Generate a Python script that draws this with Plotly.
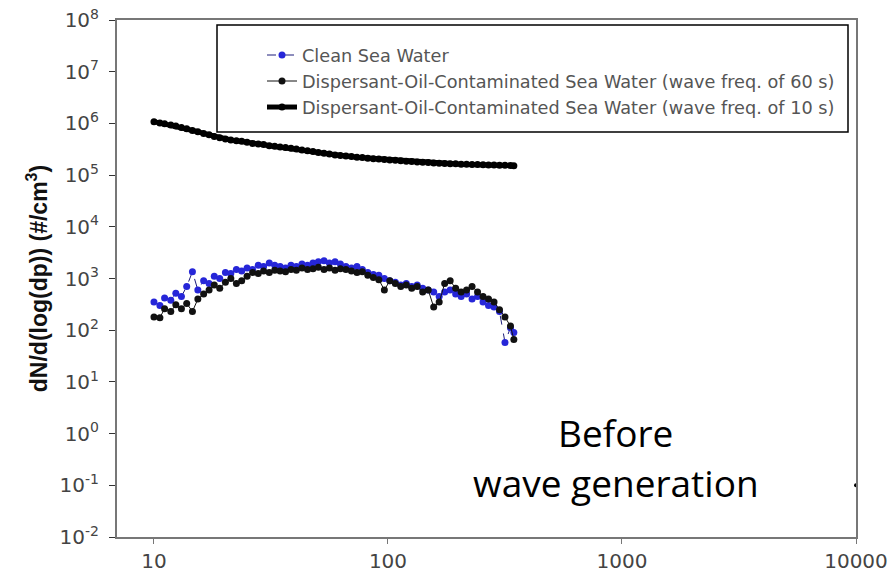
import plotly.graph_objects as go

# particle diameter bins (nm)
dp = [10.0, 10.6, 11.1, 11.8, 12.4, 13.1, 13.8, 14.6, 15.4, 16.3, 17.2, 18.1, 19.1, 20.2,
      21.3, 22.5, 23.7, 25.0, 26.4, 27.9, 29.4, 31.1, 32.8, 34.6, 36.5, 38.5, 40.6, 42.9,
      45.3, 47.8, 50.4, 53.3, 56.2, 59.4, 62.6, 66.1, 69.8, 73.7, 77.7, 82.0, 86.6, 91.4,
      96.5, 101.8, 107.5, 113.4, 119.7, 126.3, 133.3, 140.7, 148.6, 156.8, 165.5, 174.7,
      184.4, 194.6, 205.4, 216.7, 228.7, 241.4, 254.8, 268.9, 283.9, 299.6, 316.2, 333.8, 345.0]

clean = [350, 300, 420, 380, 520, 450, 700, 1350, 600, 900, 800, 1100, 1000, 1300,
         1250, 1500, 1400, 1600, 1500, 1800, 1700, 2000, 1800, 1700, 1600, 1800, 1700, 1900,
         1800, 2000, 2100, 2200, 2000, 2100, 1900, 1700, 1600, 1700, 1500, 1300, 1200, 1150,
         1000, 900, 850, 750, 800, 700, 750, 650, 600, 550, 450, 550,
         600, 500, 450, 500, 400, 450, 350, 300, 280, 230, 58, 112, 90]

oil60 = [180, 175, 260, 230, 310, 260, 330, 230, 400, 500, 600, 750, 650, 850,
         1000, 800, 900, 1100, 1300, 1250, 1400, 1300, 1450, 1400, 1350, 1500, 1450, 1600,
         1500, 1550, 1650, 1500, 1600, 1450, 1550, 1500, 1400, 1300, 1350, 1150, 1050, 950,
         600, 900, 800, 700, 750, 650, 700, 550, 600, 280, 350, 800,
         900, 650, 550, 600, 700, 550, 450, 400, 350, 250, 180, 120, 66]

oil10 = [1.08e6, 1.02e6, 9.8e5, 9.3e5, 8.9e5, 8.3e5, 7.9e5, 7.3e5, 6.9e5, 6.4e5, 6.0e5, 5.6e5, 5.3e5, 5.0e5,
         4.8e5, 4.6e5, 4.5e5, 4.3e5, 4.1e5, 4.0e5, 3.9e5, 3.7e5, 3.6e5, 3.5e5, 3.4e5, 3.3e5, 3.2e5, 3.05e5,
         2.95e5, 2.85e5, 2.75e5, 2.65e5, 2.55e5, 2.45e5, 2.4e5, 2.35e5, 2.28e5, 2.22e5, 2.18e5, 2.12e5, 2.08e5, 2.05e5,
         2.0e5, 1.97e5, 1.93e5, 1.9e5, 1.86e5, 1.83e5, 1.8e5, 1.78e5, 1.75e5, 1.72e5, 1.7e5, 1.68e5,
         1.66e5, 1.65e5, 1.63e5, 1.62e5, 1.6e5, 1.6e5, 1.58e5, 1.57e5, 1.56e5, 1.55e5, 1.55e5, 1.54e5, 1.52e5]

stray_x = [10000]
stray_y = [0.1]

names = ["Clean Sea Water",
         "Dispersant-Oil-Contaminated Sea Water (wave freq. of 60 s)",
         "Dispersant-Oil-Contaminated Sea Water (wave freq. of 10 s)"]

xticks = [10, 100, 1000, 10000]
xticktext = ["10", "100", "1000", "10000"]
yexp = list(range(-2, 9))
yticks = [10.0 ** e for e in yexp]
yticktext = ["10<sup>%d</sup>" % e for e in yexp]

FONT = "DejaVu Sans, Liberation Sans, sans-serif"
BFONT = "Liberation Sans, Arial, sans-serif"

fig = go.Figure()
fig.add_trace(go.Scatter(x=dp, y=clean, name=names[0], mode="lines+markers",
                         line=dict(color="#1c1c7a", width=1, dash="dash"),
                         marker=dict(color="#2626d8", size=7)))
fig.add_trace(go.Scatter(x=dp, y=oil60, name=names[1], mode="lines+markers",
                         line=dict(color="#111111", width=1),
                         marker=dict(color="#111111", size=7)))
fig.add_trace(go.Scatter(x=dp, y=oil10, name=names[2], mode="lines+markers",
                         line=dict(color="#000000", width=5),
                         marker=dict(color="#000000", size=7, symbol="circle")))
fig.add_trace(go.Scatter(x=stray_x, y=stray_y, mode="markers", showlegend=False,
                         marker=dict(color="#000000", size=4), cliponaxis=False))

W, H = 888, 584
L, R, T, B = 117, 32, 20, 47
pw, ph = W - L - R, H - T - B


def px(xp):
    return (xp - L) / pw


def py(yp):
    return (H - B - yp) / ph


fig.add_shape(type="rect", xref="paper", yref="paper",
              x0=px(217), x1=px(848), y0=py(132), y1=py(25),
              line=dict(color="#000000", width=1.5), fillcolor="white", layer="below")

fig.add_annotation(text="Before", xref="paper", yref="paper", x=px(615), y=py(432),
                   xanchor="center", yanchor="middle", showarrow=False,
                   font=dict(family="Open Sans, sans-serif", size=37, color="black"))
fig.add_annotation(text="wave generation", xref="paper", yref="paper", x=px(616), y=py(482),
                   xanchor="center", yanchor="middle", showarrow=False,
                   font=dict(family="Open Sans, sans-serif", size=37, color="black"))

fig.update_layout(
    width=W, height=H,
    margin=dict(l=L, r=R, t=T, b=B, autoexpand=False),
    paper_bgcolor="white", plot_bgcolor="white",
    font=dict(family=FONT, color="#444"),
    legend=dict(x=px(262), y=py(37), xanchor="left", yanchor="top",
                bgcolor="rgba(0,0,0,0)", borderwidth=0,
                font=dict(family=FONT, size=17.7, color="#555")),
    xaxis=dict(type="log", range=[0.842, 4.0], tickvals=xticks, ticktext=xticktext,
               automargin=False,
               showgrid=False, zeroline=False, showline=True, linecolor="#777", linewidth=2,
               mirror=True, ticks="outside", ticklen=5, tickcolor="#777",
               tickfont=dict(family=FONT, size=20, color="#444")),
    yaxis=dict(type="log", range=[-2, 8], tickvals=yticks, ticktext=yticktext,
               automargin=False, ticklabelstandoff=6,
               showgrid=False, zeroline=False, showline=True, linecolor="#777", linewidth=2,
               mirror=True, ticks="outside", ticklen=6, tickcolor="#333",
               tickfont=dict(family=FONT, size=20, color="#444"),
               title=dict(text="<b>dN/d(log(dp)) (#/cm<sup>3</sup>)</b>", standoff=6,
                          font=dict(family=BFONT, size=23, color="#111"))),
)

fig.write_html("out.html")
